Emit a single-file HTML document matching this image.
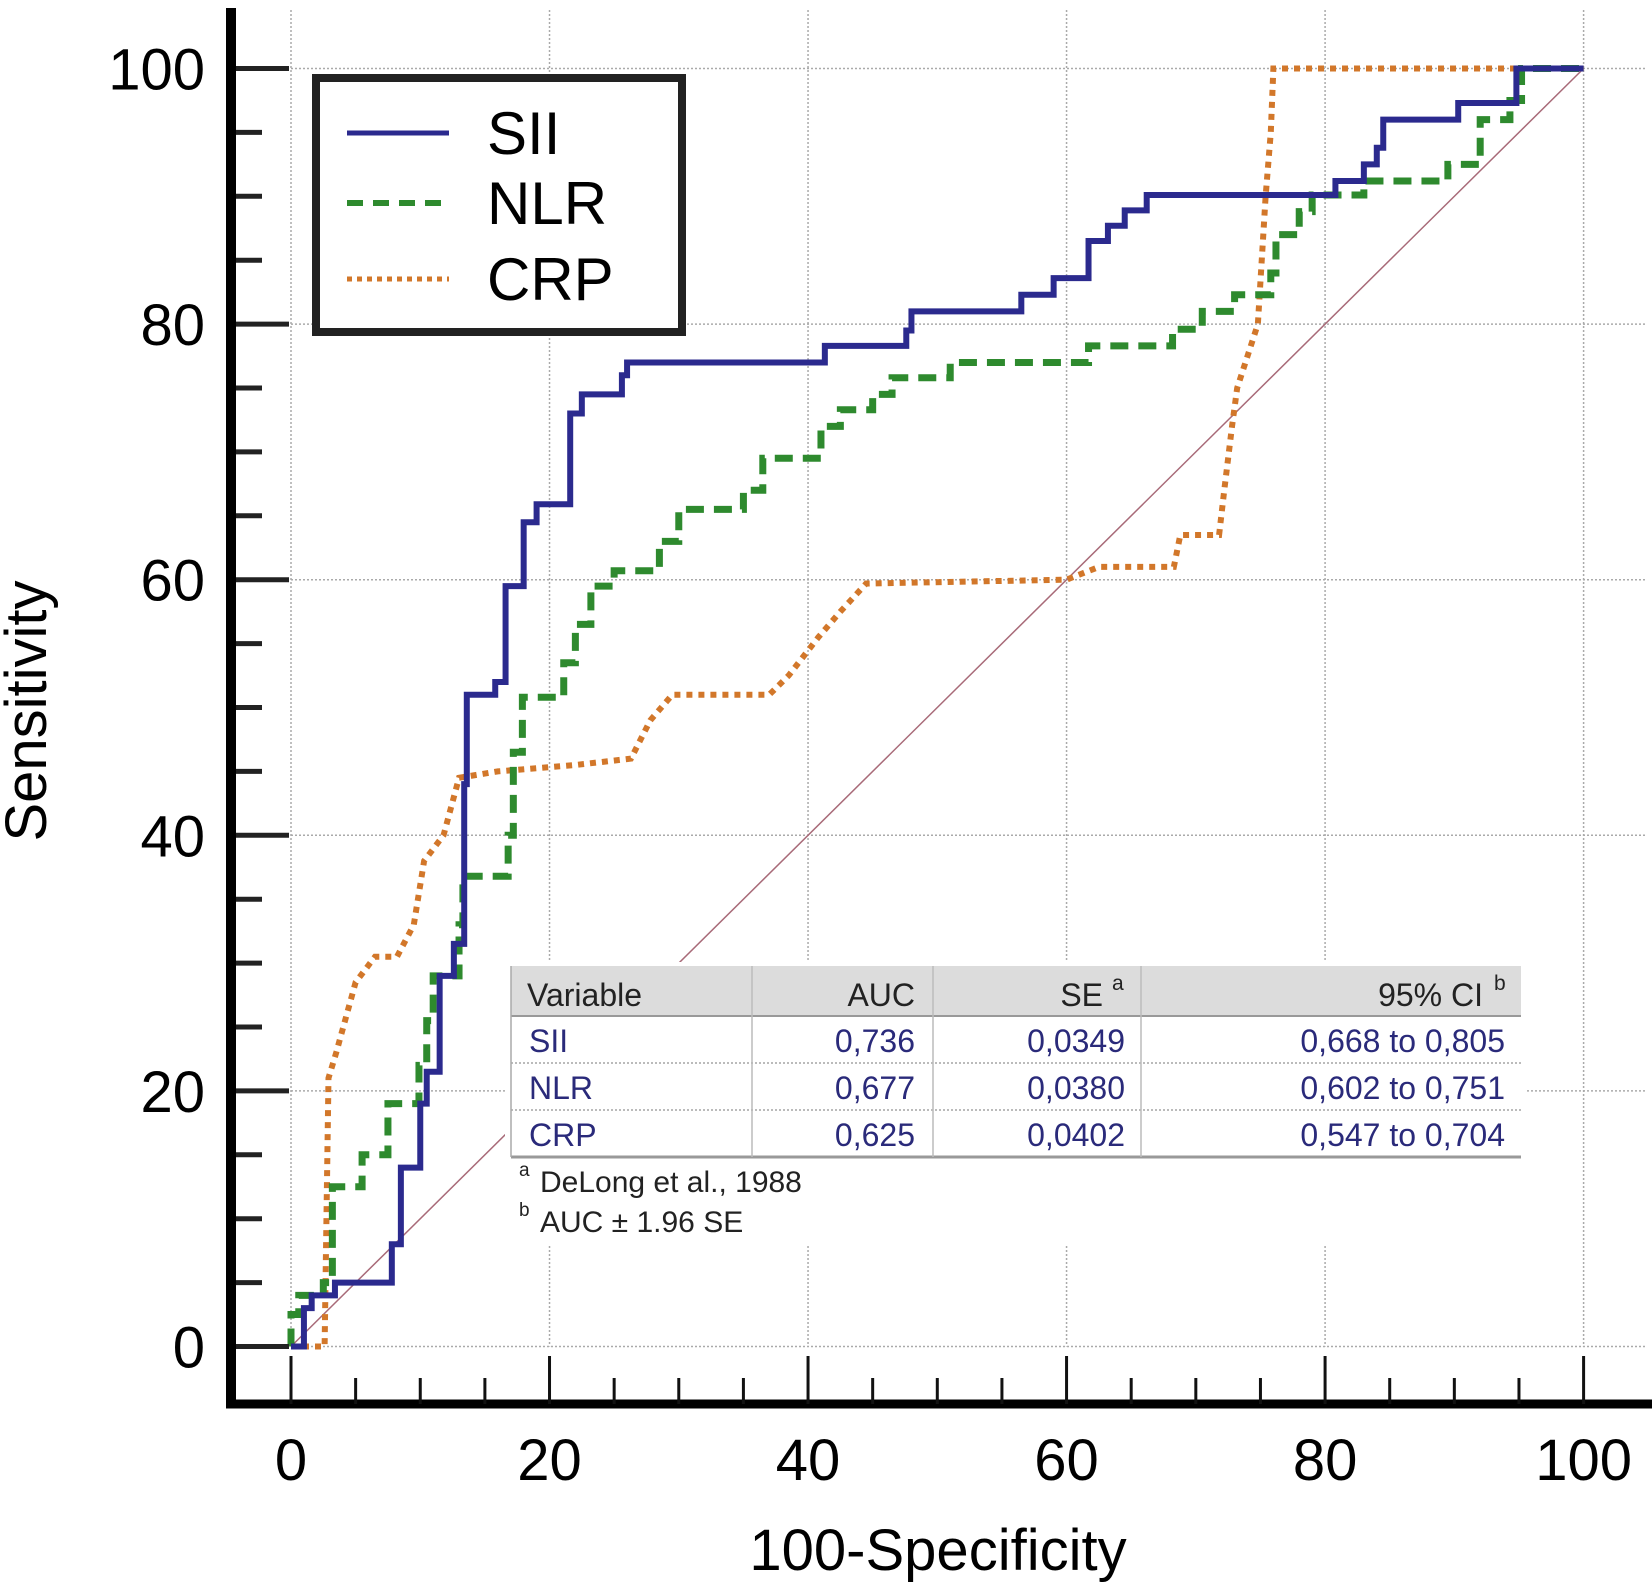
<!DOCTYPE html>
<html><head><meta charset="utf-8"><style>
html,body{margin:0;padding:0;background:#fff}
svg{display:block;font-family:"Liberation Sans",Arial,sans-serif}
</style></head><body>
<svg id="chart" width="1652" height="1586" viewBox="0 0 1652 1586" xmlns="http://www.w3.org/2000/svg">
<g id="grid"></g>
<line id="diag" stroke="#a86a78" stroke-width="1.5"/>
<g id="series"></g>
<g id="axes"></g>
<g>
<rect x="316" y="78" width="366" height="254" fill="#fff" stroke="#222" stroke-width="8"/>
<line x1="347" y1="133" x2="449" y2="133" stroke="#2b2a8e" stroke-width="5"/>
<line x1="347" y1="203" x2="449" y2="203" stroke="#2e8a2e" stroke-width="6" stroke-dasharray="16,10"/>
<line x1="347" y1="279" x2="449" y2="279" stroke="#d2772a" stroke-width="5" stroke-dasharray="5,5"/>
<text x="487" y="154" font-size="60">SII</text>
<text x="487" y="224" font-size="60">NLR</text>
<text x="487" y="300" font-size="60">CRP</text>
</g>
<g font-size="32">
<rect x="505" y="962" width="1020" height="282" fill="#fff"/>
<rect x="511" y="966" width="1010" height="50" fill="#dcdcdc"/>
<line x1="511" y1="1016" x2="1521" y2="1016" stroke="#999" stroke-width="2"/>
<line x1="511" y1="1063" x2="1521" y2="1063" stroke="#bbb" stroke-width="2" stroke-dasharray="2,2"/>
<line x1="511" y1="1110" x2="1521" y2="1110" stroke="#bbb" stroke-width="2" stroke-dasharray="2,2"/>
<line x1="511" y1="1157" x2="1521" y2="1157" stroke="#999" stroke-width="3"/>
<line x1="511" y1="966" x2="511" y2="1157" stroke="#aaa" stroke-width="1.5"/>
<line x1="752" y1="966" x2="752" y2="1157" stroke="#bbb" stroke-width="1.5"/>
<line x1="933" y1="966" x2="933" y2="1157" stroke="#bbb" stroke-width="1.5"/>
<line x1="1141" y1="966" x2="1141" y2="1157" stroke="#bbb" stroke-width="1.5"/>
<g fill="#222">
<text x="527" y="1006">Variable</text>
<text x="915" y="1006" text-anchor="end">AUC</text>
<text x="1103" y="1006" text-anchor="end">SE</text>
<text x="1112" y="990" font-size="21">a</text>
<text x="1483" y="1006" text-anchor="end">95% CI</text>
<text x="1494" y="990" font-size="21">b</text>
</g>
<g fill="#2a2a7a">
<text x="529" y="1052">SII</text><text x="915" y="1052" text-anchor="end">0,736</text><text x="1125" y="1052" text-anchor="end">0,0349</text><text x="1505" y="1052" text-anchor="end">0,668 to 0,805</text>
<text x="529" y="1099">NLR</text><text x="915" y="1099" text-anchor="end">0,677</text><text x="1125" y="1099" text-anchor="end">0,0380</text><text x="1505" y="1099" text-anchor="end">0,602 to 0,751</text>
<text x="529" y="1146">CRP</text><text x="915" y="1146" text-anchor="end">0,625</text><text x="1125" y="1146" text-anchor="end">0,0402</text><text x="1505" y="1146" text-anchor="end">0,547 to 0,704</text>
</g>
<g fill="#222" font-size="30">
<text x="519" y="1176" font-size="19">a</text><text x="540" y="1192">DeLong et al., 1988</text>
<text x="519" y="1216" font-size="19">b</text><text x="540" y="1232">AUC ± 1.96 SE</text>
</g>
</g>
<text x="938" y="1570" font-size="58" text-anchor="middle">100-Specificity</text>
<text transform="translate(46,711) rotate(-90)" font-size="58" text-anchor="middle">Sensitivity</text>
</svg>
<script>
const xTicks = [0,20,40,60,80,100];
const yTicks = [0,20,40,60,80,100];
const siiX = [0,1,1.6,3.4,7.8,8.5,10,10.5,11.5,12.6,13.4,13.6,15.8,16.6,18,19,21.6,22.5,25.6,26,41.3,47.6,48,56.5,59,61.7,63.2,64.5,66.2,80.8,83,84,84.5,90.3,94.8,100];
const siiY = [0,3,4,5,8,14,19,21.5,29,31.5,44,51,52,59.5,64.5,65.9,73,74.5,76,77,78.3,79.5,81,82.3,83.6,86.5,87.7,88.9,90.1,91.2,92.5,93.8,96,97.3,100,100];
const nlrX = [0,0.6,2.5,3.2,5.5,7.5,9.9,10.5,11,13,13.3,16.8,17.2,17.9,21.1,22,23.2,25,28.5,30,35,36.5,41,42.5,45,46.5,51,61.7,68.2,70.5,73,75.8,76.2,78,79,83,89.5,92,94.3,95.2,100];
const nlrY = [2.5,4,5,12.5,15,19,22,25.5,29,33,36.8,40,46.5,50.8,53.5,56.5,59.5,60.7,63,65.5,67,69.5,72,73.3,74.5,75.8,77,78.3,79.6,81,82.3,84,87,88.8,90.1,91.2,92.5,96,97.5,100,100];
const crpX = [0,2.6,2.9,3.5,5,6.5,8.2,9.5,10.3,11.8,13,16,22,26.3,27.8,29.5,37,38.5,40.8,42.5,44.5,60,62.5,68.3,68.8,71.8,72.2,72.8,73.2,74.8,75.4,75.8,76,100];
const crpY = [0,0,21,23,28.5,30.5,30.5,33,38,40,44.5,45,45.5,46,49,51,51,52.5,55.5,57.5,59.7,60,61,61,63.5,63.5,67,72,75,80,90,95,100,100];

const NS = 'http://www.w3.org/2000/svg';
function X(v){return 291 + v*12.926;}
function Y(v){return 1346.5 - v*12.78;}
function mk(parent, tag, attrs){const e=document.createElementNS(NS,tag);for(const k in attrs)e.setAttribute(k,attrs[k]);parent.appendChild(e);return e;}

const grid = document.getElementById('grid');
xTicks.forEach(v=>{
  const l = mk(grid,'line',{x1:X(v),x2:X(v),y1:10,y2:Y(0),stroke:'#aaa','stroke-width':1.5,'stroke-dasharray':'2,2'});
  
  
});
yTicks.forEach(v=>{
  const l = mk(grid,'line',{x1:X(0),x2:1645,y1:Y(v),y2:Y(v),stroke:'#aaa','stroke-width':1.5,'stroke-dasharray':'2,2'});
  
  
});
const diag = document.getElementById('diag');
diag.setAttribute('x1', X(0)); diag.setAttribute('y1', Y(0));
diag.setAttribute('x2', X(100)); diag.setAttribute('y2', Y(100));

function stepPath(xs, ys){
  let d = 'M'+X(xs[0])+','+Y(0)+' V'+Y(ys[0]);
  for(let i=1;i<xs.length;i++){ d += ' H'+X(xs[i])+' V'+Y(ys[i]); }
  return d;
}
function polyPath(xs, ys){
  return xs.map((x,i)=>(i?'L':'M')+X(x)+','+Y(ys[i])).join(' ');
}
const series = document.getElementById('series');
const crp = mk(series,'path',{d:polyPath(crpX,crpY),fill:'none',stroke:'#d2772a','stroke-width':6,'stroke-dasharray':'6,6'});


const nlr = mk(series,'path',{d:stepPath(nlrX,nlrY),fill:'none',stroke:'#2e8a2e','stroke-width':7,'stroke-dasharray':'18,10'});


const sii = mk(series,'path',{d:stepPath(siiX,siiY),fill:'none',stroke:'#2b2a8e','stroke-width':6});



const axes = document.getElementById('axes');
mk(axes,'line',{x1:231,x2:231,y1:8,y2:1408,stroke:'#000','stroke-width':10});
mk(axes,'line',{x1:226,x2:1652,y1:1404,y2:1404,stroke:'#000','stroke-width':9});
for(let v=0; v<=100; v+=5){
  const major = v%20===0;
  mk(axes,'line',{x1:236,x2:major?289:262,y1:Y(v),y2:Y(v),stroke:'#222','stroke-width':5});
  mk(axes,'line',{x1:X(v),x2:X(v),y1:major?1356:1378,y2:1404,stroke:'#111','stroke-width':3});
}
yTicks.forEach(v=>{
  const t = mk(axes,'text',{x:205,y:Y(v)+21,'font-size':58,'text-anchor':'end'});
  t.textContent = v;
  
  
});
xTicks.forEach(v=>{
  const t = mk(axes,'text',{x:X(v),y:1480,'font-size':58,'text-anchor':'middle'});
  t.textContent = v;
  
  
});
</script>
</body></html>
